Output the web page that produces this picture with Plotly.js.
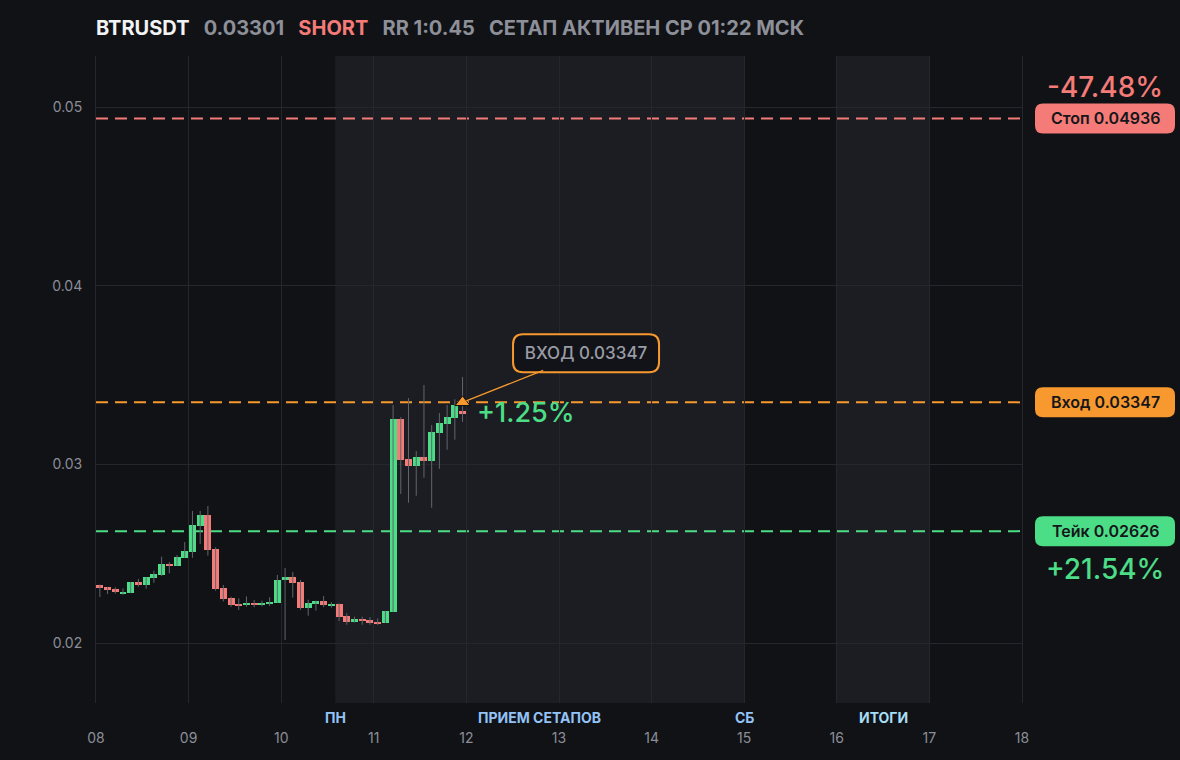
<!DOCTYPE html>
<html>
<head>
<meta charset="utf-8">
<script src="https://cdn.plot.ly/plotly-3.0.1.min.js"></script>
<style>
html,body{margin:0;padding:0;background:#111216;}
#chart{width:1180px;height:760px;}
</style>
</head>
<body>
<div id="chart"></div>
<script>
// ---- data (2h candles, BTRUSDT) ----
var times = [
 '2025-03-08 01:00','2025-03-08 03:00','2025-03-08 05:00','2025-03-08 07:00','2025-03-08 09:00','2025-03-08 11:00',
 '2025-03-08 13:00','2025-03-08 15:00','2025-03-08 17:00','2025-03-08 19:00','2025-03-08 21:00','2025-03-08 23:00',
 '2025-03-09 01:00','2025-03-09 03:00','2025-03-09 05:00','2025-03-09 07:00','2025-03-09 09:00','2025-03-09 11:00',
 '2025-03-09 13:00','2025-03-09 15:00','2025-03-09 17:00','2025-03-09 19:00','2025-03-09 21:00','2025-03-09 23:00',
 '2025-03-10 01:00','2025-03-10 03:00','2025-03-10 05:00','2025-03-10 07:00','2025-03-10 09:00','2025-03-10 11:00',
 '2025-03-10 13:00','2025-03-10 15:00','2025-03-10 17:00','2025-03-10 19:00','2025-03-10 21:00','2025-03-10 23:00',
 '2025-03-11 01:00','2025-03-11 03:00','2025-03-11 05:00','2025-03-11 07:00','2025-03-11 09:00','2025-03-11 11:00',
 '2025-03-11 13:00','2025-03-11 15:00','2025-03-11 17:00','2025-03-11 19:00','2025-03-11 21:00','2025-03-11 23:00'
];
var open = [0.02325,0.02312,0.02302,0.02276,0.02281,0.02341,0.02323,0.02365,0.02382,0.02442,0.02433,0.02477,
            0.02511,0.02656,0.02716,0.02526,0.02308,0.02252,0.02218,0.02213,0.02224,0.02211,0.02220,0.02226,
            0.02351,0.02369,0.02341,0.02198,0.02220,0.02235,0.02209,0.02220,0.02151,0.02119,0.02133,0.02127,
            0.02119,0.02114,0.02175,0.03253,0.03030,0.02992,0.03039,0.03020,0.03177,0.03227,0.03261,0.03298];
var high = [0.02327,0.02313,0.02312,0.02306,0.02342,0.02358,0.02368,0.02405,0.02483,0.02453,0.02492,0.02565,
            0.02739,0.02739,0.02767,0.02536,0.02325,0.02259,0.02250,0.02261,0.02241,0.02237,0.02256,0.02381,
            0.02420,0.02397,0.02353,0.02242,0.02237,0.02263,0.02229,0.02222,0.02166,0.02147,0.02147,0.02145,
            0.02138,0.02180,0.03332,0.03265,0.03371,0.03074,0.03444,0.03220,0.03287,0.03332,0.03364,0.03489];
var low  = [0.02257,0.02274,0.02276,0.02270,0.02280,0.02315,0.02304,0.02337,0.02375,0.02390,0.02433,0.02477,
            0.02477,0.02554,0.02489,0.02293,0.02233,0.02203,0.02185,0.02203,0.02200,0.02205,0.02207,0.02225,
            0.02017,0.02254,0.02186,0.02153,0.02181,0.02201,0.02198,0.02123,0.02102,0.02114,0.02102,0.02102,
            0.02101,0.02113,0.02175,0.02834,0.02785,0.02824,0.02925,0.02757,0.02975,0.03082,0.03138,0.03238];
var close= [0.02308,0.02298,0.02284,0.02285,0.02341,0.02323,0.02368,0.02386,0.02442,0.02433,0.02481,0.02515,
            0.02660,0.02716,0.02522,0.02302,0.02248,0.02214,0.02207,0.02224,0.02211,0.02224,0.02231,0.02353,
            0.02369,0.02337,0.02198,0.02224,0.02235,0.02213,0.02220,0.02147,0.02119,0.02133,0.02123,0.02112,
            0.02106,0.02179,0.03253,0.03026,0.02992,0.03039,0.03020,0.03181,0.03231,0.03265,0.03332,0.03283];

var symbol = 'BTRUSDT';
var lastPrice = '0.03301';
var side = 'SHORT';
var rrText = 'RR 1:0.45';
var statusText = 'СЕТАП АКТИВЕН СР 01:22 МСК';

var entryPrice = 0.03347;
var stopPrice = 0.04936;
var takePrice = 0.02626;
var entryTime = '2025-03-11 23:00';
var stopPct = '-47.48%';
var takePct = '+21.54%';
var currentPct = '+1.25%';

var xTickStart = '2025-03-08';
var xTickEnd = '2025-03-18';
var yTicks = [0.02, 0.03, 0.04, 0.05];
var yRange = [0.016642, 0.052855];

var zoneStarts = ['2025-03-10 14:00', '2025-03-16 00:00'];
var zoneEnds   = ['2025-03-15 00:00', '2025-03-17 00:00'];
var periodLabels = ['ПН', 'ПРИЕМ СЕТАПОВ', 'СБ', 'ИТОГИ'];
var periodTimes  = ['2025-03-10 14:00', '2025-03-12 19:00', '2025-03-15 00:00', '2025-03-16 12:00'];

// ---- styles ----
var BG = '#111216', ZONE = '#1c1d22', GRID = '#26272d';
var RED = '#f47b77', GREEN = '#4cdd87', ORANGE = '#f7992e';
var TICK = '#8b8e97', WICK = '#62656d';
var FONT = 'Inter, "Noto Sans", sans-serif';

// wicks
var wx = [], wy = [];
for (var i = 0; i < times.length; i++) {
  wx.push(times[i], times[i], null);
  wy.push(low[i], high[i], null);
}
var bodyBase = [], bodyLen = [], bodyCol = [];
for (var j = 0; j < times.length; j++) {
  bodyBase.push(Math.min(open[j], close[j]));
  bodyLen.push(Math.max(Math.abs(close[j] - open[j]), 0.00008));
  bodyCol.push(close[j] >= open[j] ? GREEN : RED);
}

var traces = [
  {type:'scatter', mode:'lines', x:wx, y:wy, line:{color:WICK, width:1}, hoverinfo:'skip', showlegend:false},
  {type:'bar', x:times, y:bodyLen, base:bodyBase, width:6500000,
   marker:{color:bodyCol, line:{width:0}}, hoverinfo:'skip', showlegend:false},
  {type:'scatter', mode:'markers', x:[entryTime], y:[entryPrice],
   marker:{symbol:'triangle-up', size:13, color:ORANGE, line:{color:'#0c0d10', width:1}},
   hoverinfo:'skip', showlegend:false}
];

function rr(cx, cy, w, h, r) {
  var x0 = cx - w/2, x1 = cx + w/2, y0 = cy - h/2, y1 = cy + h/2;
  return 'M' + (x0+r) + ',' + y0 + ' L' + (x1-r) + ',' + y0 + ' Q' + x1 + ',' + y0 + ' ' + x1 + ',' + (y0+r) +
         ' L' + x1 + ',' + (y1-r) + ' Q' + x1 + ',' + y1 + ' ' + (x1-r) + ',' + y1 +
         ' L' + (x0+r) + ',' + y1 + ' Q' + x0 + ',' + y1 + ' ' + x0 + ',' + (y1-r) +
         ' L' + x0 + ',' + (y0+r) + ' Q' + x0 + ',' + y0 + ' ' + (x0+r) + ',' + y0 + ' Z';
}

var shapes = [];
for (var k = 0; k < zoneStarts.length; k++) {
  shapes.push({type:'rect', xref:'x', yref:'paper', x0:zoneStarts[k], x1:zoneEnds[k], y0:0, y1:1,
               fillcolor:ZONE, line:{width:0}, layer:'below'});
}
var levels = [[stopPrice, RED], [entryPrice, ORANGE], [takePrice, GREEN]];
levels.forEach(function(l) {
  shapes.push({type:'line', xref:'paper', yref:'y', x0:0, x1:1, y0:l[0], y1:l[0],
               line:{color:l[1], width:2, dash:'12px,7px'}, layer:'between'});
  shapes.push({type:'path', xref:'paper', yref:'y', xsizemode:'pixel', ysizemode:'pixel',
               xanchor:1, yanchor:l[0], path:rr(83, 0, 140, 30, 8),
               fillcolor:l[1], line:{width:0}, layer:'above'});
});
// callout box
shapes.push({type:'path', xref:'x', yref:'y', xsizemode:'pixel', ysizemode:'pixel',
             xanchor:entryTime, yanchor:entryPrice, path:rr(123.5, 49, 146, 38, 10),
             fillcolor:'#121318', line:{color:ORANGE, width:2}, layer:'above'});

var annotations = [];
var labelTexts = ['Стоп ' + stopPrice.toFixed(5), 'Вход ' + entryPrice.toFixed(5), 'Тейк ' + takePrice.toFixed(5)];
levels.forEach(function(l, idx) {
  annotations.push({xref:'paper', yref:'y', x:1, y:l[0], xshift:83, xanchor:'center', yanchor:'middle',
                    text:labelTexts[idx], showarrow:false,
                    font:{family:FONT, size:16, weight:600, color:'#15161a'}});
});
annotations.push({xref:'paper', yref:'y', x:1, y:stopPrice, xshift:83, yshift:31, xanchor:'center', yanchor:'middle',
                  text:stopPct, showarrow:false, font:{family:FONT, size:28, weight:500, color:RED}});
annotations.push({xref:'paper', yref:'y', x:1, y:takePrice, xshift:83, yshift:-38, xanchor:'center', yanchor:'middle',
                  text:takePct, showarrow:false, font:{family:FONT, size:28, weight:500, color:GREEN}});
annotations.push({xref:'x', yref:'y', x:entryTime, y:entryPrice, xshift:12, yshift:-10, xanchor:'left', yanchor:'middle',
                  text:currentPct, showarrow:false, font:{family:FONT, size:27, weight:500, color:GREEN}});
annotations.push({xref:'x', yref:'y', x:entryTime, y:entryPrice, axref:'pixel', ayref:'pixel', ax:123.5, ay:-49,
                  text:'ВХОД ' + entryPrice.toFixed(5), showarrow:true, arrowhead:0, arrowwidth:1.2,
                  arrowcolor:ORANGE, standoff:4, width:142, height:34, borderpad:0, borderwidth:0,
                  bgcolor:'rgba(0,0,0,0)', font:{family:FONT, size:17, weight:500, color:'#9a9ca5'}});
for (var p = 0; p < periodLabels.length; p++) {
  annotations.push({xref:'x', yref:'paper', x:periodTimes[p], y:0, yshift:-14, xanchor:'center', yanchor:'middle',
                    text:'<b>' + periodLabels[p] + '</b>', showarrow:false,
                    font:{family:FONT, size:14, color: p === 3 ? '#a6def5' : '#93c3f7'}});
}

var titleText = '<b><span style="color:#f2f3f5">' + symbol + '</span>&nbsp;&nbsp;&nbsp;' +
  '<span style="color:#8d9099">' + lastPrice + '</span>&nbsp;&nbsp;&nbsp;' +
  '<span style="color:' + RED + '">' + side + '</span>&nbsp;&nbsp;&nbsp;' +
  '<span style="color:#8d9099">' + rrText + '</span>&nbsp;&nbsp;&nbsp;' +
  '<span style="color:#8d9099">' + statusText + '</span></b>';

var layout = {
  width:1180, height:760,
  paper_bgcolor:BG, plot_bgcolor:BG,
  margin:{l:96, r:158, t:56, b:57},
  font:{family:FONT, color:TICK},
  title:{text:titleText, x:96/1180, xanchor:'left', xref:'container', y:1 - 28/760, yanchor:'middle', yref:'container',
         font:{family:FONT, size:20, color:'#f2f3f5'}},
  bargap:0, barmode:'overlay',
  showlegend:false,
  xaxis:{type:'date', range:[xTickStart, xTickEnd], dtick:86400000, tick0:xTickStart, tickformat:'%d',
         showgrid:true, gridcolor:GRID, gridwidth:1, zeroline:false, showline:false, ticks:'',
         ticklabelstandoff:25, tickfont:{family:FONT, size:14, color:TICK}, fixedrange:true},
  yaxis:{range:yRange, tickvals:yTicks, tickformat:'.2f', showgrid:true, gridcolor:GRID, gridwidth:1,
         zeroline:false, showline:true, linecolor:GRID, linewidth:1, mirror:true, ticks:'', ticklabelstandoff:10,
         tickfont:{family:FONT, size:14, color:TICK}, fixedrange:true},
  shapes:shapes,
  annotations:annotations,
  hovermode:false
};

Plotly.newPlot('chart', traces, layout, {displayModeBar:false, staticPlot:true});
</script>
</body>
</html>
